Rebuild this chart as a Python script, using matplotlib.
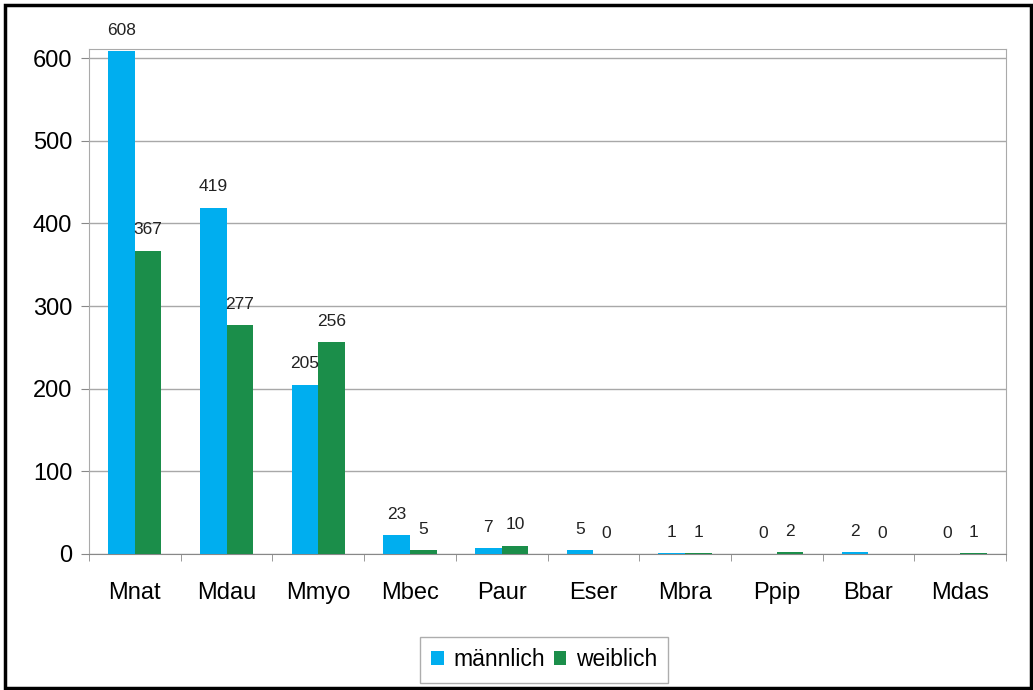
import numpy as np
import matplotlib.pyplot as plt
from matplotlib.patches import Rectangle

# Arten und Anzahl Tiere nach Geschlecht
arten = ['Mnat', 'Mdau', 'Mmyo', 'Mbec', 'Paur', 'Eser', 'Mbra', 'Ppip', 'Bbar', 'Mdas']
maennlich = [608, 419, 205, 23, 7, 5, 1, 0, 2, 0]
weiblich = [367, 277, 256, 5, 10, 0, 1, 2, 0, 1]

plt.rcParams['font.family'] = ['Liberation Sans', 'DejaVu Sans']

fig = plt.figure(figsize=(10.33, 6.9), dpi=100)
ax = fig.add_axes([89 / 1033, 1 - 554 / 690, (1006 - 89) / 1033, (554 - 49) / 690])

x = np.arange(len(arten))
w = 0.29
b1 = ax.bar(x - w / 2, maennlich, w, color='#00AEEF', label='männlich', zorder=3)
b2 = ax.bar(x + w / 2, weiblich, w, color='#1B8E4A', label='weiblich', zorder=3)

# Zahlen über den Balken
for bars in (b1, b2):
    for r in bars:
        ax.annotate(f'{int(r.get_height())}', (r.get_x() + r.get_width() / 2, r.get_height()),
                    textcoords='offset points', xytext=(0, 15), ha='center', va='center',
                    fontsize=12.5, color='#222222')

ax.set_xlim(-0.5, len(arten) - 0.5)
ax.set_ylim(0, 611)
ax.set_yticks(range(0, 601, 100))
ax.yaxis.grid(True, color='#a8a8a8', linewidth=1, zorder=0)
ax.set_xticks(x)
ax.set_xticklabels(arten, fontsize=17)
ax.set_xticks(np.arange(-0.5, len(arten)), minor=True)
ax.tick_params(axis='x', which='major', length=0, pad=20)
ax.tick_params(axis='x', which='minor', length=5, color='#888888')
ax.tick_params(axis='y', length=6, color='#888888', labelsize=17, pad=6)
for s in ax.spines.values():
    s.set_color('#aaaaaa')
ax.spines['bottom'].set_color('#888888')

leg = fig.legend(loc='center', bbox_to_anchor=(544 / 1033, 1 - 660 / 690), ncol=2,
                 fontsize=16.5, frameon=True, fancybox=False, edgecolor='#999999',
                 handlelength=0.55, handleheight=0.55, handletextpad=0.4, columnspacing=0.4,
                 borderpad=0.5, borderaxespad=0)
leg.get_frame().set_linewidth(1)

# Rahmen um die ganze Grafik
fig.add_artist(Rectangle((5 / 1033, 2 / 690), 1026 / 1033, 683 / 690, transform=fig.transFigure,
                         fill=False, edgecolor='black', linewidth=2.5))

fig.savefig('out.png', dpi=100)
